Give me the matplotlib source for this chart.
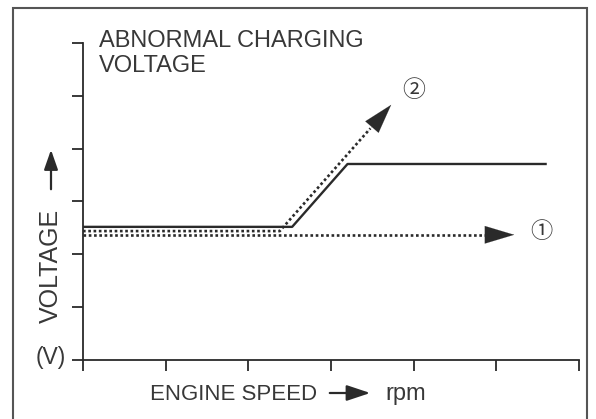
import numpy as np
import matplotlib
matplotlib.use('Agg')
import matplotlib.pyplot as plt
from matplotlib.patches import Rectangle

plt.rcParams['font.family'] = ['Liberation Sans', 'Noto Sans CJK JP', 'DejaVu Sans']

# dados (eixos sem escala: 0..6 em cada direcao)
speed_normal = [0, 2.53, 3.2, 5.61]
volt_normal = [2.52, 2.52, 3.71, 3.71]

speed_case1 = [0, 5.25]
volt_case1 = [2.37, 2.37]

speed_case2 = [0, 2.38, 3.75]
volt_case2 = [2.44, 2.44, 4.87]

x_ticks = [0, 1, 2, 3, 4, 5, 6]
y_ticks = [0, 1, 2, 3, 4, 5, 6]

W, H = 596, 419
ink = '#2a2a2a'
txt = '#383838'

def fx(px):
    return px / W

def fy(py):
    return 1 - py / H

fig = plt.figure(figsize=(W / 100, H / 100), dpi=100)
ax = fig.add_axes([fx(83), fy(360), (579 - 83) / W, (360 - 43) / H])
ax.set_xlim(0, 6)
ax.set_ylim(0, 6)
ax.set_xticks(x_ticks)
ax.set_yticks(y_ticks)
ax.set_xticklabels([])
ax.set_yticklabels([])
ax.tick_params(direction='out', length=8, width=1.3, color=ink)
for s in ['top', 'right']:
    ax.spines[s].set_visible(False)
for s in ['left', 'bottom']:
    ax.spines[s].set_color(ink)
    ax.spines[s].set_linewidth(1.3)

# linhas
ax.plot(speed_normal, volt_normal, color=ink, lw=1.7, solid_capstyle='butt')
ax.plot(speed_case1[:-1] + [speed_case1[-1] - 0.3], volt_case1, color=ink, lw=1.9,
        linestyle=(0, (1, 1)))
ax.annotate('', xy=(speed_case1[-1], volt_case1[-1]),
            xytext=(speed_case1[-1] - 0.4, volt_case1[-1]),
            arrowprops=dict(arrowstyle='-|>,head_length=1.5,head_width=0.45',
                            mutation_scale=14, color=ink, lw=0.1))

t = 0.8
xe = speed_case2[1] + t * (speed_case2[2] - speed_case2[1])
ye = volt_case2[1] + t * (volt_case2[2] - volt_case2[1])
ax.plot(speed_case2[:2] + [xe], volt_case2[:2] + [ye], color=ink, lw=1.9,
        linestyle=(0, (1, 1)))
ax.annotate('', xy=(speed_case2[-1], volt_case2[-1]), xytext=(xe - 0.05, ye - 0.1),
            arrowprops=dict(arrowstyle='-|>,head_length=1.5,head_width=0.45',
                            mutation_scale=14, color=ink, lw=0.1))

ax.text(5.55, volt_case1[-1] + 0.04, '①', fontsize=16, color=txt, ha='center', va='center')
ax.text(4.0, 5.1, '②', fontsize=16.5, color=txt, ha='center', va='center')

# textos
fig.text(fx(99), fy(30), 'ABNORMAL CHARGING\nVOLTAGE', fontsize=17, color=txt,
         ha='left', va='top', linespacing=1.15)
fig.text(fx(150), fy(394), 'ENGINE SPEED', fontsize=16, color=txt, ha='left', va='center')
fig.text(fx(385), fy(394), 'rpm', fontsize=17, color=txt, ha='left', va='center')
fig.text(fx(51), fy(266), 'VOLTAGE', fontsize=18, color=txt, rotation=90,
         ha='center', va='center')
fig.text(fx(51), fy(357), '(V)', fontsize=16.5, color=txt, ha='center', va='center')

fig.add_artist(plt.Annotation('', xy=(fx(373), fy(393)), xytext=(fx(327), fy(393)),
                              xycoords='figure fraction',
                              arrowprops=dict(arrowstyle='-|>,head_length=1.2,head_width=0.4',
                                              mutation_scale=12, color=ink, lw=1.6)))
fig.add_artist(plt.Annotation('', xy=(fx(51), fy(147)), xytext=(fx(51), fy(192)),
                              xycoords='figure fraction',
                              arrowprops=dict(arrowstyle='-|>,head_length=1.0,head_width=0.35',
                                              mutation_scale=12, color=ink, lw=1.6)))

# moldura
fig.add_artist(Rectangle((fx(13), -0.1), (587 - 13) / W, fy(8) + 0.1,
                         transform=fig.transFigure, fill=False, edgecolor='#555555', lw=1.5))

fig.savefig('out.png', dpi=100)
